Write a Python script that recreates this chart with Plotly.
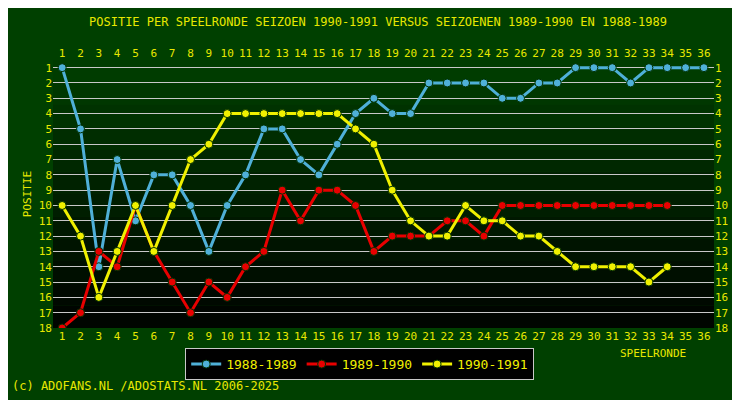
import plotly.graph_objects as go

rounds = list(range(1, 37))
s1988 = [1,5,14,7,11,8,8,10,13,10,8,5,5,7,8,6,4,3,4,4,2,2,2,2,3,3,2,2,1,1,1,2,1,1,1,1]
s1989 = [18,17,13,14,10,13,15,17,15,16,14,13,9,11,9,9,10,13,12,12,12,11,11,12,10,10,10,10,10,10,10,10,10,10]
s1990 = [10,12,16,13,10,13,10,7,6,4,4,4,4,4,4,4,5,6,9,11,12,12,10,11,11,12,12,13,14,14,14,14,15,14]
names = ["1988-1989", "1989-1990", "1990-1991"]
colors = ["#4fb0d8", "#e80000", "#f0f000"]
yticks = list(range(1, 19))

fig = go.Figure()
for name, vals, c in zip(names, [s1988, s1989, s1990], colors):
    fig.add_trace(go.Scatter(x=rounds[:len(vals)], y=vals, name=name, mode="lines+markers",
                             line=dict(color=c, width=3),
                             marker=dict(color=c, size=8, line=dict(color="#003000", width=1))))
fig.add_trace(go.Scatter(x=[rounds[0]], y=[1], xaxis="x2", yaxis="y2", showlegend=False,
                         mode="markers", marker=dict(opacity=0), hoverinfo="skip"))

n = 12
for i in range(n):
    g = int(60 * (1 - i / n))
    fig.add_shape(type="rect", xref="paper", yref="paper", x0=0, x1=1,
                  y0=1 - (i + 1) / n, y1=1 - i / n, fillcolor=f"rgb(0,{g},0)",
                  line=dict(width=0), layer="below")

fnt = dict(family="DejaVu Sans Mono", color="#e8e800", size=11)
ax = dict(range=[0.5, 36.55], tickmode="array", tickvals=rounds, ticktext=[str(r) for r in rounds],
          showgrid=False, zeroline=False, ticks="", tickfont=fnt, showline=False, automargin=False)
ay = dict(range=[18, 0.5], tickmode="array", tickvals=yticks, ticktext=[str(v) for v in yticks],
          gridcolor="#c8c8c8", gridwidth=1, zeroline=False, ticks="", tickfont=fnt, automargin=False)
fig.update_layout(
    width=740, height=400,
    paper_bgcolor="#004000", plot_bgcolor="rgba(0,0,0,0)",
    margin=dict(l=45, r=34, t=52, b=80),
    title=dict(text="POSITIE PER SPEELRONDE SEIZOEN 1990-1991 VERSUS SEIZOENEN 1989-1990 EN 1988-1989",
               x=0.5, y=0.975, xanchor="center", font=dict(family="DejaVu Sans Mono", size=12, color="#e8e800")),
    xaxis=ax, yaxis=dict(**ay, showgrid=True, title=dict(text="POSITIE", font=fnt, standoff=4)),
    xaxis2=dict(**ax, overlaying="x", side="top", matches="x"),
    yaxis2=dict(**ay, showgrid=False, overlaying="y", side="right", matches="y"),
    legend=dict(orientation="h", x=0.2, y=-0.075, xanchor="left", yanchor="top",
                bgcolor="#000000", bordercolor="#c8c8c8", borderwidth=1,
                font=dict(family="DejaVu Sans Mono", size=13, color="#f0f000")),
    annotations=[
        dict(text="SPEELRONDE", xref="paper", yref="paper", x=0.96, y=-0.125, showarrow=False,
             font=dict(family="DejaVu Sans Mono", size=11, color="#e8e800")),
        dict(text="(c) ADOFANS.NL /ADOSTATS.NL 2006-2025", xref="paper", yref="paper", x=-0.065, y=-0.25,
             xanchor="left", showarrow=False,
             font=dict(family="DejaVu Sans Mono", size=12, color="#e8e800")),
    ],
)
fig.write_html("out.html")
